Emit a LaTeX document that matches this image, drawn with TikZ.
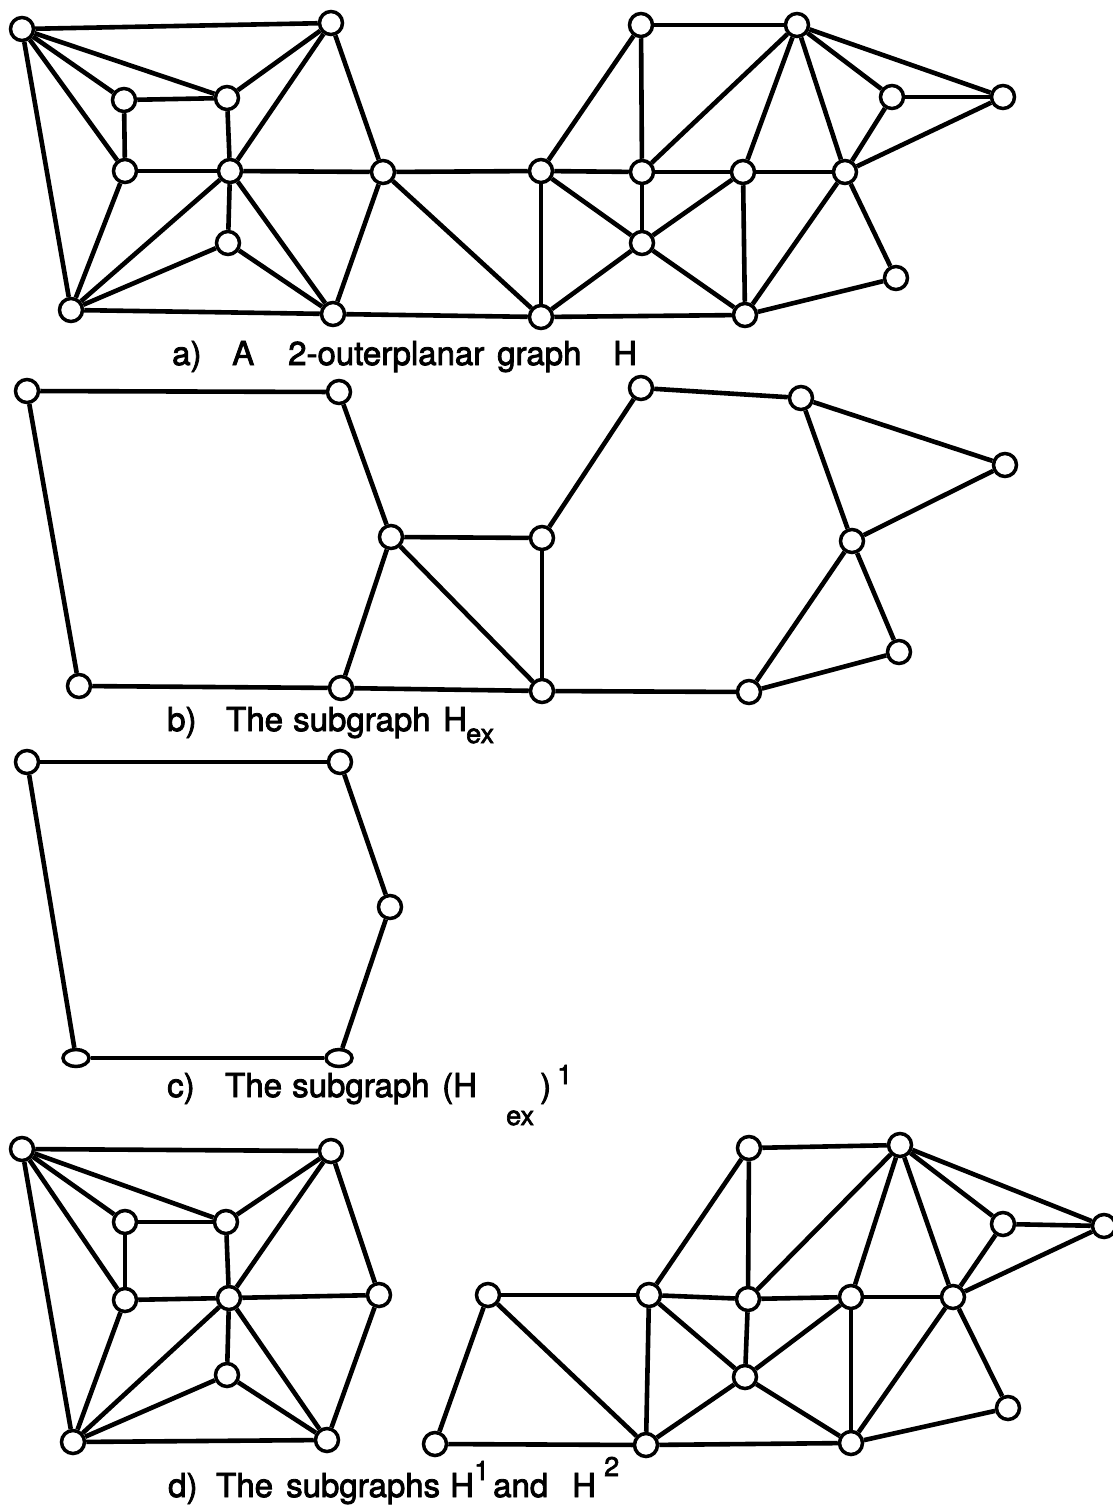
\documentclass[tikz,border=0pt]{standalone}
\usepackage{fontspec}
\setmainfont{TeX Gyre Heros}
\newfontfamily\lblfont{TeX Gyre Heros}[FakeBold=2.5]
\usetikzlibrary{shapes.geometric}
\begin{document}
\begin{tikzpicture}[x=1pt,y=-1pt,
  v/.style={circle,draw,fill=white,line width=3.5pt,minimum size=23pt,inner sep=0pt},
  ve/.style={ellipse,draw,fill=white,line width=3.5pt,minimum width=26pt,minimum height=17pt,inner sep=0pt},
  ed/.style={line width=4.6pt},
  lbl/.style={anchor=base west,inner sep=0pt,font=\lblfont\fontsize{33}{38}\selectfont},
  sml/.style={anchor=base west,inner sep=0pt,font=\lblfont\fontsize{27}{30}\selectfont}]
\useasboundingbox (0,0) rectangle (1113,1512);

% ---------- a) ----------
\foreach \n/\x/\y in {a1/22/29, a2/331/23, a3/124/100, a4/227/98, a5/125/171, a6/230/171,
  a7/383/172, a8/228/243, a9/71/310, a10/333/314, a11/541/171, a12/541/317,
  b1/641/25, b2/797/25, b3/892/97, b4/1003/97, b5/642/172, b6/743/172, b7/845/172,
  b8/642/243, b9/745/315, b10/896/278}
  \node[v] (\n) at (\x,\y) {};
\foreach \p/\q in {a1/a2, a1/a3, a1/a4, a1/a5, a1/a9, a2/a4, a2/a6, a2/a7, a3/a4, a3/a5,
  a4/a6, a5/a6, a5/a9, a6/a7, a6/a9, a6/a8, a6/a10, a8/a9, a8/a10, a9/a10, a7/a10,
  a7/a11, a7/a12, a10/a12, a11/a12, a11/b1, a11/b5, a11/b8, b1/b5, b1/b2, b2/b5,
  b2/b6, b2/b7, b2/b3, b2/b4, b3/b4, b3/b7, b4/b7, b5/b6, b6/b7, b5/b8, b6/b8,
  a12/b8, b8/b9, b6/b9, b7/b9, b7/b10, b9/b10, a12/b9}
  \draw[ed] (\p) -- (\q);
\node[lbl] (la1) at (172,365) {a)};
\node[lbl] (la2) at (232,365) {A};
\node[lbl] (la3) at (288,365) {2-outerplanar};
\node[lbl] (la4) at (497,365) {graph};
\node[lbl] (la5) at (613,365) {H};

% ---------- b) ----------
\foreach \n/\x/\y in {c1/27/391, c2/339/392, c3/391/537, c4/79/686, c5/341/688, c6/542/538,
  c7/542/691, c8/641/388, c9/801/398, c10/1005/465, c11/852/541, c12/899/652, c13/749/692}
  \node[v] (\n) at (\x,\y) {};
\foreach \p/\q in {c1/c2, c1/c4, c2/c3, c3/c5, c4/c5, c3/c6, c3/c7, c5/c7, c6/c7, c6/c8,
  c8/c9, c9/c10, c9/c11, c10/c11, c11/c13, c11/c12, c12/c13, c7/c13}
  \draw[ed] (\p) -- (\q);
\node[lbl] (lb1) at (167,731) {b)};
\node[lbl] (lb2) at (226,731) {The};
\node[lbl] (lb3) at (293,731) {subgraph};
\node[lbl] (lb4) at (443,731) {H};
\node[sml] (lb5) at (466,743) {ex};

% ---------- c) ----------
\foreach \n/\x/\y in {e1/27/762, e2/340/762, e3/390/907}
  \node[v] (\n) at (\x,\y) {};
\node[ve] (e4) at (76,1058) {};
\node[ve] (e5) at (339,1058) {};
\foreach \p/\q in {e1/e2, e1/e4, e2/e3, e3/e5, e4/e5}
  \draw[ed] (\p) -- (\q);
\node[lbl] (lc1) at (167,1097) {c)};
\node[lbl] (lc2) at (225,1097) {The};
\node[lbl] (lc3) at (292,1097) {subgraph};
\node[lbl] (lc4) at (442,1097) {(H};
\node[sml] (lc5) at (506,1125) {ex};
\node[lbl] (lc6) at (540,1097) {)};
\node[sml] (lc7) at (557,1084) {1};

% ---------- d) ----------
\foreach \n/\x/\y in {d1/22/1149, d2/331/1151, d3/125/1222, d4/226/1222, d5/125/1300,
  d6/229/1298, d7/379/1295, d8/227/1375, d9/73/1442, d10/327/1440,
  d12/488/1295, d11/435/1444, f1/749/1148, f2/900/1145, f3/1003/1224, f4/1104/1226,
  f5/649/1295, f6/748/1299, f7/851/1297, f8/953/1297, f9/745/1377, f10/1008/1408,
  f11/646/1445, f12/851/1443}
  \node[v] (\n) at (\x,\y) {};
\foreach \p/\q in {d1/d2, d1/d3, d1/d4, d1/d5, d1/d9, d2/d4, d2/d6, d2/d7, d3/d4, d3/d5,
  d4/d6, d5/d6, d5/d9, d6/d7, d6/d9, d6/d8, d6/d10, d8/d9, d8/d10, d9/d10, d7/d10,
  d12/d11, d12/f5, d12/f11, d11/f11, f5/f1, f5/f6, f5/f9, f5/f11, f1/f2, f1/f6, f6/f2,
  f6/f7, f6/f9, f7/f2, f7/f8, f7/f9, f7/f12, f8/f2, f8/f3, f8/f4, f8/f12, f8/f10,
  f2/f3, f2/f4, f3/f4, f9/f11, f9/f12, f11/f12, f12/f10}
  \draw[ed] (\p) -- (\q);
\node[lbl] (ld1) at (168,1497) {d)};
\node[lbl] (ld2) at (216,1497) {The};
\node[lbl] (ld3) at (286,1497) {subgraphs};
\node[lbl] (ld4) at (450,1497) {H};
\node[sml] (ld5) at (474,1480) {1};
\node[lbl] (ld6) at (493,1497) {and};
\node[lbl] (ld7) at (572,1497) {H};
\node[sml] (ld8) at (604,1476) {2};
\end{tikzpicture}
\end{document}
